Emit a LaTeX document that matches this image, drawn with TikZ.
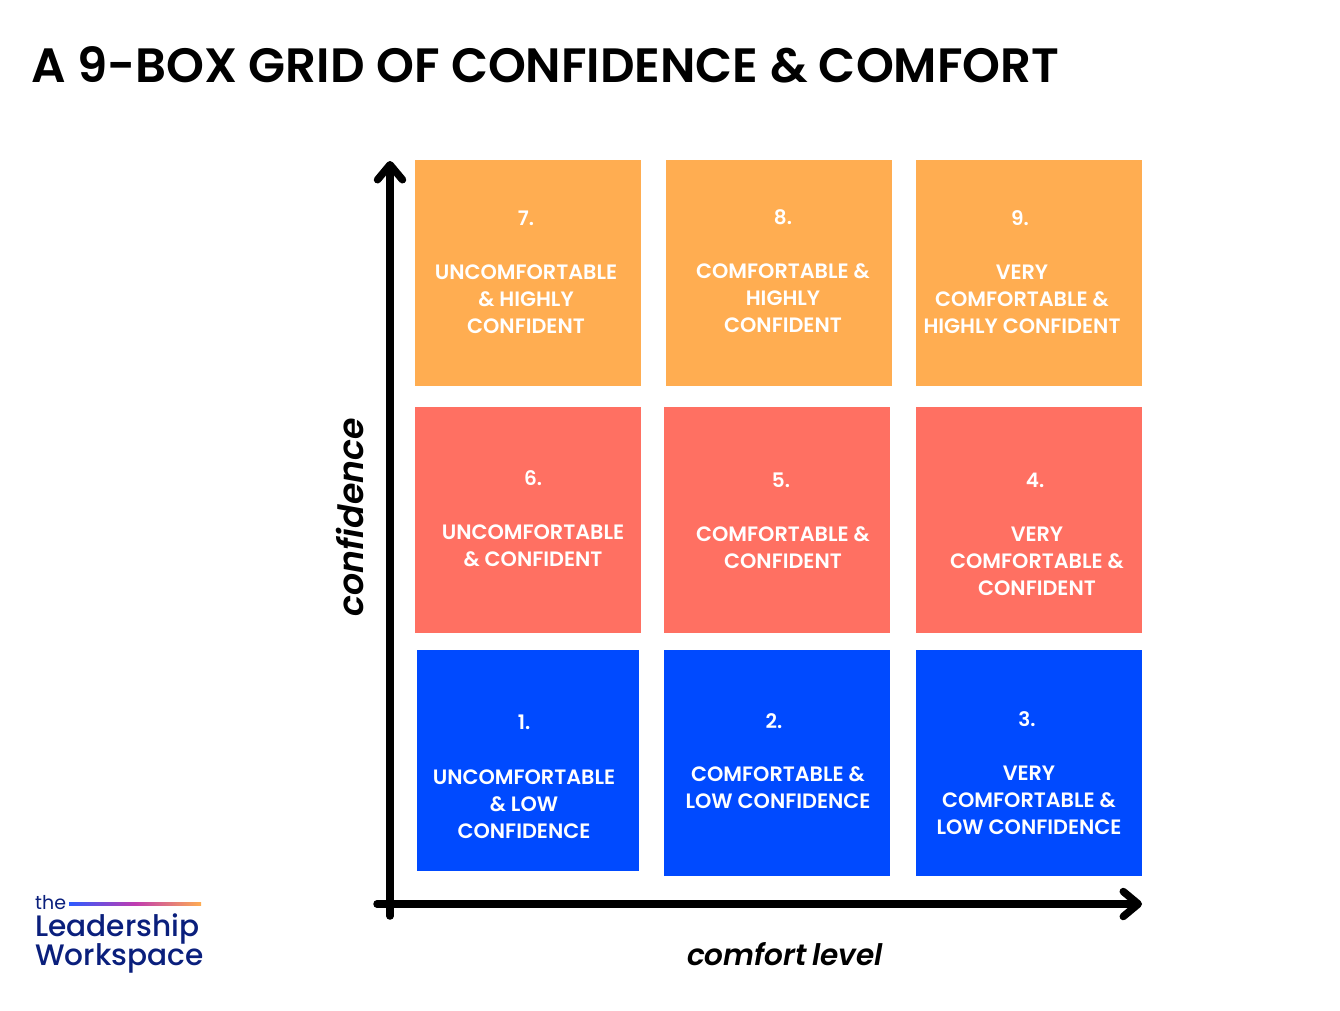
\documentclass[tikz,border=0pt]{standalone}
\usepackage{fontspec}
\setmainfont{Poppins}
\newfontfamily\mediumfont{Poppins Medium}
\newfontfamily\semifont{Poppins SemiBold}
\usetikzlibrary{positioning}
\usetikzlibrary{arrows.meta}

\definecolor{boxorange}{HTML}{FFAD51}
\definecolor{boxred}{HTML}{FF7062}
\definecolor{boxblue}{HTML}{004AFF}
\definecolor{logonavy}{HTML}{0A1F7C}
\definecolor{rulestart}{HTML}{2D5BFF}
\definecolor{rulemid}{HTML}{C03CB0}

\begin{document}
\begin{tikzpicture}[
            x = 1pt,
            y = -1pt,
            axis/.style = {line width = 7.5pt, line cap = round},
            tip/.style = {-{Straight Barb[round, length = 15pt, width = 25pt]}}
        ]

        \tikzstyle{cell}=[
            inner sep = 0pt,
            outer sep = 0pt,
            minimum size = 226pt
        ]
        \tikzstyle{num}=[
            text = white,
            font = \fontsize{20}{27}\selectfont\semifont
        ]
        \tikzstyle{lbl}=[
            text = white,
            align = center,
            font = \fontsize{20.8}{27}\selectfont\semifont
        ]

        \useasboundingbox (0,0) rectangle (1340,1010);

        \node[anchor=west, inner sep=0pt, font=\fontsize{48.2}{52}\selectfont\semifont] (title) at (31,65) {A 9-BOX GRID OF CONFIDENCE \& COMFORT};

        % top row
        \node[cell, fill=boxorange] (b7) at (528,273) {};
        \node[cell, fill=boxorange] (b8) [right=25pt of b7] {};
        \node[cell, fill=boxorange] (b9) [right=24pt of b8] {};
        % middle row
        \node[cell, fill=boxred] (b6) [below=21pt of b7] {};
        \node[cell, fill=boxred] (b5) [right=23pt of b6] {};
        \node[cell, fill=boxred] (b4) [right=26pt of b5] {};
        % bottom row
        \node[cell, fill=boxblue, minimum width=222pt, minimum height=221pt] (b1) at (528,760.5) {};
        \node[cell, fill=boxblue] (b2) at (777,763) {};
        \node[cell, fill=boxblue] (b3) [right=26pt of b2] {};

        \node[num] (n7) at (526,218) {7.};
        \node[lbl] (t7) at (526,299) {UNCOMFORTABLE\\\& HIGHLY\\CONFIDENT};
        \node[num] (n8) at (783,217) {8.};
        \node[lbl] (t8) at (783,298) {COMFORTABLE \&\\HIGHLY\\CONFIDENT};
        \node[num] (n9) at (1020,218) {9.};
        \node[lbl] (t9) at (1022,299) {VERY\\COMFORTABLE \&\\HIGHLY CONFIDENT};

        \node[num] (n6) at (533,478) {6.};
        \node[lbl] (t6) at (533,545.5) {UNCOMFORTABLE\\\& CONFIDENT};
        \node[num] (n5) at (781,480) {5.};
        \node[lbl] (t5) at (783,547.5) {COMFORTABLE \&\\CONFIDENT};
        \node[num] (n4) at (1035,480) {4.};
        \node[lbl] (t4) at (1037,561.5) {VERY\\COMFORTABLE \&\\CONFIDENT};

        \node[num] (n1) at (524,722) {1.};
        \node[lbl] (t1) at (524,804) {UNCOMFORTABLE\\\& LOW\\CONFIDENCE};
        \node[num] (n2) at (774,721) {2.};
        \node[lbl] (t2) at (778,788) {COMFORTABLE \&\\LOW CONFIDENCE};
        \node[num] (n3) at (1027,719) {3.};
        \node[lbl] (t3) at (1029,800) {VERY\\COMFORTABLE \&\\LOW CONFIDENCE};

        % axes
        \coordinate (ybottom) at (390,916);
        \coordinate (ytop) at (390,161);
        \coordinate (xleft) at (377,904);
        \coordinate (xright) at (1142,904);
        \draw[axis, tip] (ybottom) -- (ytop);
        \draw[axis, tip] (xleft) -- (xright);

        \node[rotate=90, font=\fontsize{34.8}{38}\selectfont\semifont\itshape] (ylabel) at (350,517) {confidence};
        \node[font=\fontsize{29.6}{34}\selectfont\semifont\itshape] (xlabel) at (785,954) {comfort\hspace{-3pt} level};

        % logo
        \node[anchor=west, inner sep=0pt, text=logonavy, font=\fontsize{19}{20}\selectfont] (the) at (35,903) {the};
        \node[anchor=west, inner sep=0pt, minimum width=132pt, minimum height=3pt,
            left color=rulestart, right color=boxorange, middle color=rulemid] (rule) at (69,903.5) {};
        \node[anchor=west, inner sep=0pt, text=logonavy, font=\fontsize{29.6}{32}\selectfont\mediumfont] (lead) at (35,929) {Leadership};
        \node[anchor=west, inner sep=0pt, text=logonavy, font=\fontsize{29.6}{32}\selectfont\mediumfont] (work) at (35,958) {Workspace};

  \end{tikzpicture}
\end{document}
